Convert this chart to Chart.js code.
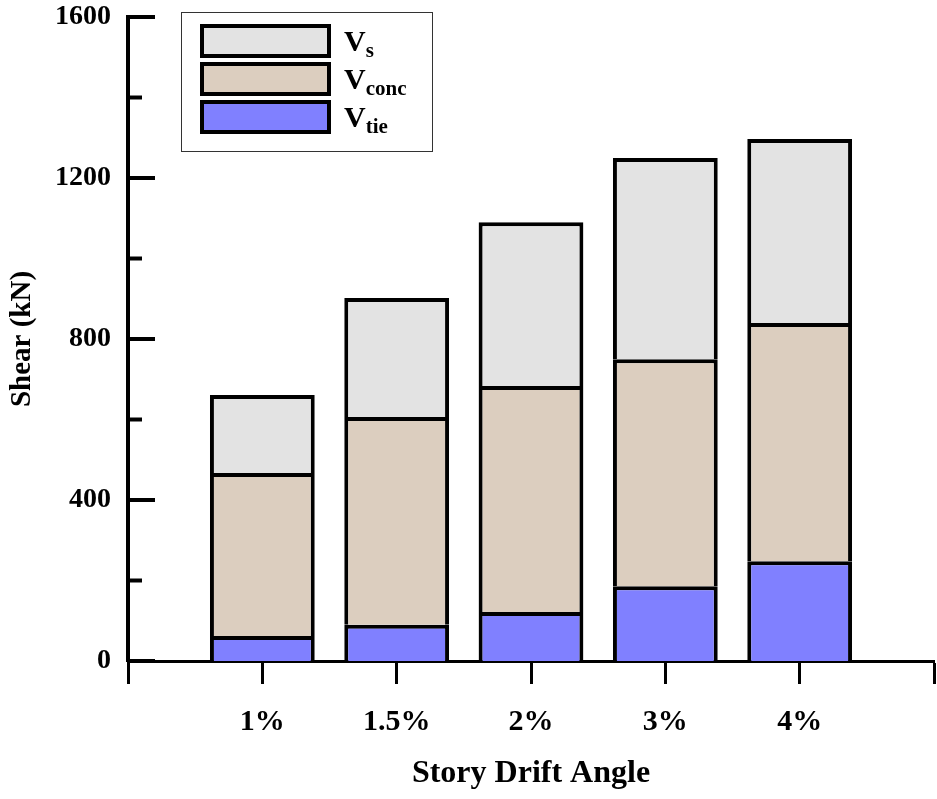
<!DOCTYPE html>
<html>
<head>
<meta charset="utf-8">
<script src="https://cdn.jsdelivr.net/npm/chart.js@4"></script>
<style>
  html, body { margin: 0; padding: 0; background: #fff; }
  #wrap { width: 937px; height: 799px; }
</style>
</head>
<body>
<div id="wrap"><canvas id="shearChart" width="937" height="799"></canvas></div>
<script>
// categories (empty slots at both ends, as in the original axis)
const driftLabels = ['', '1%', '1.5%', '2%', '3%', '4%', ''];
// stacked components, kN
const vTie  = [null, 62, 90, 122, 186, 248, null];
const vConc = [null, 405, 516, 561, 564, 592, null];
const vS    = [null, 194, 296, 407, 500, 457, null];
const yTicks = [0, 400, 800, 1200, 1600];

const serif = "'Liberation Serif', 'Times New Roman', serif";

// inward ticks on the y axis + legend with subscripts
const extras = {
    id: 'extras',
    afterDraw(chart) {
        const ctx = chart.ctx;
        const y = chart.scales.y;
        const left = chart.chartArea.left;
        ctx.save();
        ctx.strokeStyle = '#000';
        ctx.lineWidth = 4;
        y.ticks.forEach(t => {
            const py = y.getPixelForValue(t.value);
            const len = yTicks.includes(t.value) ? 27 : 14;
            ctx.beginPath();
            ctx.moveTo(left, py);
            ctx.lineTo(left + len, py);
            ctx.stroke();
        });

        // legend
        const bx = 181, by = 12, bw = 251, bh = 139;
        ctx.fillStyle = '#fff';
        ctx.fillRect(bx, by, bw, bh);
        ctx.lineWidth = 1;
        ctx.strokeStyle = '#333';
        ctx.strokeRect(bx + 0.5, by + 0.5, bw, bh);
        const order = [2, 1, 0];
        order.forEach((di, i) => {
            const ds = chart.data.datasets[di];
            const ry = 26 + i * 38;
            ctx.fillStyle = ds.backgroundColor;
            ctx.fillRect(202, ry, 127, 30);
            ctx.lineWidth = 4;
            ctx.strokeStyle = '#000';
            ctx.strokeRect(202, ry, 127, 30);
            ctx.fillStyle = '#000';
            ctx.textBaseline = 'alphabetic';
            ctx.textAlign = 'left';
            ctx.font = 'bold 30px ' + serif;
            ctx.fillText('V', 344, ry + 25);
            const w = ctx.measureText('V').width;
            ctx.font = 'bold 21px ' + serif;
            ctx.fillText(ds.sub, 344 + w, ry + 31);
        });
        ctx.restore();
    }
};

new Chart(document.getElementById('shearChart'), {
    type: 'bar',
    data: {
        labels: driftLabels,
        datasets: [
            { label: 'Vtie', sub: 'tie', data: vTie, backgroundColor: '#8080ff' },
            { label: 'Vconc', sub: 'conc', data: vConc, backgroundColor: '#dccebf' },
            { label: 'Vs', sub: 's', data: vS, backgroundColor: '#e3e3e3' }
        ].map(d => Object.assign(d, {
            borderColor: '#000',
            borderWidth: 4,
            barPercentage: 0.78,
            categoryPercentage: 1
        }))
    },
    options: {
        responsive: false,
        animation: false,
        layout: { padding: { top: 17, right: 3, left: 0, bottom: 0 } },
        plugins: {
            legend: { display: false },
            tooltip: { enabled: false }
        },
        scales: {
            x: {
                stacked: true,
                offset: false,
                afterFit(s) {
                    s.height = 138;
                    s.paddingLeft = 0;
                    s.paddingRight = 0;
                },
                border: { display: true, color: '#000', width: 3 },
                grid: {
                    offset: false,
                    drawOnChartArea: false,
                    drawTicks: true,
                    tickLength: 23,
                    tickWidth: 3,
                    color: '#000'
                },
                ticks: {
                    color: '#000',
                    padding: 20,
                    maxRotation: 0,
                    autoSkip: false,
                    font: { family: serif, size: 30, weight: 'bold' }
                },
                title: {
                    display: true,
                    text: 'Story Drift Angle',
                    color: '#000',
                    padding: { top: 0, bottom: 6 },
                    font: { family: serif, size: 32, weight: 'bold' }
                }
            },
            y: {
                stacked: true,
                min: 0,
                max: 1600,
                afterFit(s) {
                    s.width = 128;
                    s.paddingTop = 0;
                    s.paddingBottom = 0;
                },
                border: { display: true, color: '#000', width: 4 },
                grid: { display: false },
                ticks: {
                    stepSize: 200,
                    color: '#000',
                    padding: 9,
                    font: { family: serif, size: 28, weight: 'bold' },
                    callback: v => yTicks.includes(v) ? String(v) : ''
                },
                title: {
                    display: true,
                    text: 'Shear (kN)',
                    color: '#000',
                    padding: { top: 5 },
                    font: { family: serif, size: 29, weight: 'bold' }
                }
            }
        }
    },
    plugins: [extras]
});
</script>
</body>
</html>
